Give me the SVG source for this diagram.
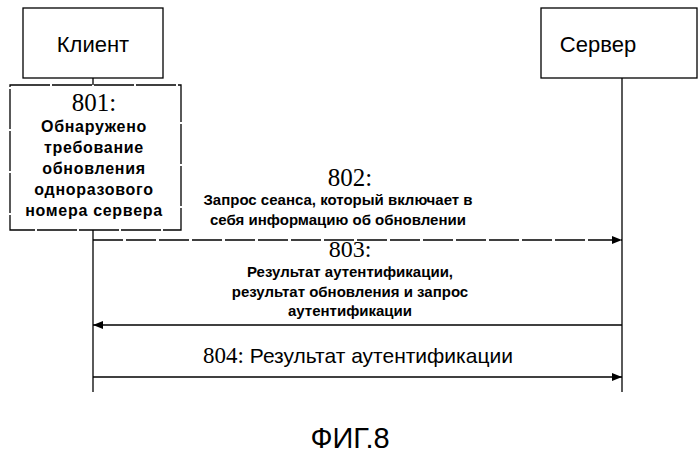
<svg xmlns="http://www.w3.org/2000/svg" width="699" height="455" viewBox="0 0 699 455">
<style>
.b{fill:#fff;stroke:#000;stroke-width:1.3}
.l{stroke:#000;stroke-width:1.3;fill:none}
.t{font-family:"Liberation Sans",Arial,sans-serif;fill:#000;text-anchor:middle}
.s{font-family:"Liberation Serif",serif;fill:#000;text-anchor:middle}
.bd{font-weight:bold;font-size:15px}
.bx{font-weight:bold;font-size:16px;letter-spacing:0.7px}
</style>
<defs><marker id="a" markerWidth="10" markerHeight="8" refX="10" refY="4" orient="auto" markerUnits="userSpaceOnUse"><path d="M0,0 L10,4 L0,8 Z"/></marker></defs>
<g id="connectors">
<line class="l" x1="93" y1="78" x2="93" y2="392"/>
<line class="l" x1="622" y1="78" x2="622" y2="392"/>
<line class="l" x1="93" y1="240" x2="622" y2="240" stroke-dasharray="30,3" marker-end="url(#a)"/>
<line class="l" x1="622" y1="325" x2="93" y2="325" marker-end="url(#a)"/>
<line class="l" x1="93" y1="377" x2="622" y2="377" marker-end="url(#a)"/>
</g>
<g id="client"><rect class="b" x="23" y="8" width="140" height="70"/><text class="t" x="93" y="52" font-size="22">Клиент</text></g>
<g id="server"><rect class="b" x="541" y="8" width="156" height="70"/><text class="t" x="598" y="52" font-size="22">Сервер</text></g>
<g id="n801"><rect class="b" x="10" y="85" width="171" height="145" stroke-dasharray="40,2"/>
<text class="s" x="94" y="111" font-size="25">801:</text>
<text class="t bx" x="94" y="132">Обнаружено</text>
<text class="t bx" x="94" y="153">требование</text>
<text class="t bx" x="94" y="174">обновления</text>
<text class="t bx" x="94" y="195">одноразового</text>
<text class="t bx" x="94" y="216">номера сервера</text></g>
<g id="m802"><text class="s" x="350" y="186" font-size="25">802:</text>
<text class="t bd" x="338" y="205">Запрос сеанса, который включает в</text>
<text class="t bd" x="338" y="225">себя информацию об обновлении</text></g>
<g id="m803"><text class="s" x="350" y="257" font-size="24">803:</text>
<text class="t bd" x="350" y="277">Результат аутентификации,</text>
<text class="t bd" x="350" y="297">результат обновления и запрос</text>
<text class="t bd" x="350" y="316">аутентификации</text></g>
<g id="m804"><text class="t" x="358" y="363" font-size="21"><tspan font-family="Liberation Serif,serif" font-size="23">804:</tspan> Результат аутентификации</text></g>
<text class="t" x="350" y="448" font-size="29">ФИГ.8</text>
</svg>
